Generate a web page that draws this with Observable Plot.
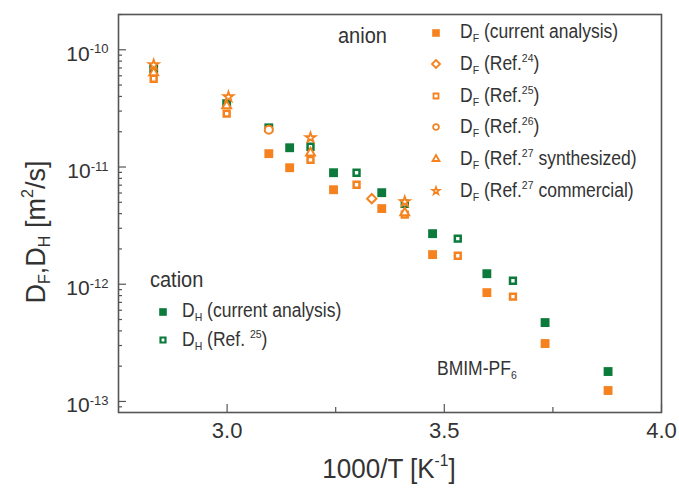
<!DOCTYPE html>
<html><head><meta charset="utf-8">
<script src="https://cdn.jsdelivr.net/npm/d3@7"></script>
<script src="https://cdn.jsdelivr.net/npm/@observablehq/plot@0.6"></script>
<style>
body{margin:0;background:#fff;}
#wrap{position:relative;width:679px;height:489px;font-family:"Liberation Sans",Arial,sans-serif;color:#333;}
#wrap svg{display:block;}
.ov{position:absolute;white-space:nowrap;line-height:1;}
.sub{font-size:0.6em;vertical-align:-0.35em;}
.sup{font-size:0.6em;vertical-align:0.7em;}
.lgsym{position:absolute;}
</style></head><body><div id="wrap"></div>
<script>
const orange = "#f5821f", green = "#0b7a3b";

// 1000/T [1/K] and diffusion coefficients [m^2/s]
const xDHcur = [2.831, 2.999, 3.096, 3.144, 3.245, 3.356, 3.473, 3.598, 3.732, 3.877];
const yDHcur = [6.9e-11, 3.47e-11, 2.16e-11, 1.46e-11, 8.94e-12, 6.04e-12, 2.70e-12, 1.23e-12, 4.71e-13, 1.80e-13];
const xDFcur = [3.096, 3.144, 3.245, 3.356, 3.473, 3.598, 3.732, 3.877];
const yDFcur = [1.30e-11, 9.86e-12, 6.40e-12, 4.42e-12, 1.79e-12, 8.48e-13, 3.12e-13, 1.24e-13];
const xDHref25 = [3.192, 3.298, 3.409, 3.531, 3.658];
const yDHref25 = [1.49e-11, 8.94e-12, 4.86e-12, 2.45e-12, 1.07e-12];
const xDFref25 = [2.831, 2.999, 3.192, 3.298, 3.409, 3.531, 3.658];
const yDFref25 = [5.66e-11, 2.85e-11, 1.15e-11, 7.06e-12, 3.92e-12, 1.75e-12, 7.83e-13];
const xDFref24 = [3.333];
const yDFref24 = [5.37e-12];
const xDFref26 = [3.096];
const yDFref26 = [2.08e-11];
const xDFref27s = [2.831, 2.999, 3.192, 3.409];
const yDFref27s = [6.37e-11, 3.33e-11, 1.32e-11, 4.07e-12];
const xDFref27c = [2.831, 3.003, 3.192, 3.409];
const yDFref27c = [7.45e-11, 3.97e-11, 1.78e-11, 5.06e-12];

// ticks
const xTicks = [3.0, 3.5, 4.0];
const xMinorTicks = [3.25, 3.75];
const yTicks = [1e-13, 1e-12, 1e-11, 1e-10];
const yMinorMult = [2, 3, 4, 5, 6, 7, 8, 9];
const yDecades = [1e-14, 1e-13, 1e-12, 1e-11, 1e-10];
const yDomain = [8.05e-14, 2.0e-10];
const yMinorTicks = yDecades.flatMap(d => yMinorMult.map(m => m * d)).filter(v => v >= yDomain[0] && v <= yDomain[1]);

const pts = (xs, ys) => xs.map((x, i) => ({x, y: ys[i]}));
const axisStroke = "#555";

const chart = Plot.plot({
  width: 679, height: 489,
  marginLeft: 118, marginRight: 18, marginTop: 14, marginBottom: 77,
  style: {fontFamily: "Liberation Sans, Arial, sans-serif", color: "#333", background: "white", overflow: "visible"},
  x: {domain: [2.75, 4.0]},
  y: {type: "log", domain: yDomain},
  marks: [
    Plot.axisX(xTicks, {tickSize: -8, tickFormat: () => "", stroke: axisStroke, strokeWidth: 1.2, label: null}),
    Plot.axisX(xMinorTicks, {tickSize: -5, tickFormat: () => "", stroke: axisStroke, strokeWidth: 1.2, label: null}),
    Plot.axisX(xTicks, {tickSize: 0, tickPadding: 10, tickFormat: d3.format(".1f"), fontSize: 22, fill: "#333", label: null}),
    Plot.axisY(yTicks, {tickSize: -8, tickFormat: () => "", stroke: axisStroke, strokeWidth: 1.2, label: null}),
    Plot.axisY(yMinorTicks, {tickSize: -4, tickFormat: () => "", stroke: axisStroke, strokeWidth: 1.2, label: null}),
    Plot.axisY(yTicks, {tickSize: 0, tickPadding: 10, tickFormat: d => "10^" + Math.round(Math.log10(d)), fontSize: 21, fill: "#333", dy: 4, label: null}),
    Plot.frame({stroke: axisStroke, strokeWidth: 1.6}),
    Plot.dot(pts(xDHcur, yDHcur), {x: "x", y: "y", symbol: "square", r: 5, fill: green, stroke: "none"}),
    Plot.dot(pts(xDFcur, yDFcur), {x: "x", y: "y", symbol: "square", r: 5, fill: orange, stroke: "none"}),
    Plot.dot(pts(xDHref25, yDHref25), {x: "x", y: "y", symbol: "square", r: 3.3, fill: "white", stroke: green, strokeWidth: 2.5}),
    Plot.dot(pts(xDFref25, yDFref25), {x: "x", y: "y", symbol: "square", r: 3.3, fill: "white", stroke: orange, strokeWidth: 2.5}),
    Plot.dot(pts(xDFref24, yDFref24), {x: "x", y: "y", symbol: "diamond2", r: 4.2, fill: "white", stroke: orange, strokeWidth: 2}),
    Plot.dot(pts(xDFref26, yDFref26), {x: "x", y: "y", symbol: "circle", r: 4, fill: "white", stroke: orange, strokeWidth: 2}),
    Plot.dot(pts(xDFref27s, yDFref27s), {x: "x", y: "y", symbol: "triangle2", r: 4.2, fill: "white", stroke: orange, strokeWidth: 2}),
    Plot.dot(pts(xDFref27c, yDFref27c), {x: "x", y: "y", symbol: "star", r: 3.1, fill: "white", stroke: orange, strokeWidth: 1.8})
  ]
});

const wrap = document.getElementById("wrap");
wrap.appendChild(chart);

// superscript exponents on y tick labels
d3.select(chart).selectAll('g[aria-label="y-axis tick label"] text').each(function() {
  const t = this.textContent;
  if (!t.startsWith("10^")) return;
  const exp = t.slice(3);
  const sel = d3.select(this);
  this.textContent = "";
  sel.append("tspan").text("10");
  sel.append("tspan").attr("dy", "-0.55em").attr("font-size", "0.62em").text(exp);
});

function overlay(html, left, top, size, extra) {
  const d = document.createElement("div");
  d.className = "ov";
  d.style.left = left + "px";
  d.style.top = top + "px";
  d.style.fontSize = size + "px";
  if (extra) Object.assign(d.style, extra);
  d.innerHTML = html;
  wrap.appendChild(d);
  return d;
}

// axis titles
overlay('1000/T [K<span class="sup">-1</span>]', 389, 467, 26, {transform: "translate(-50%,-50%) scaleY(1.08)"});
overlay('D<span class="sub">F</span>,D<span class="sub">H</span> [m<span class="sup">2</span>/s]', 36, 232, 27, {transform: "translate(-50%,-50%) rotate(-90deg)"});

// legend
const symbols = {square: d3.symbolSquare, diamond: d3.symbolDiamond2, circle: d3.symbolCircle, triangle: d3.symbolTriangle2, star: d3.symbolStar};
function legendRow(cx, cy, tx, sym, r, color, filled, sw, html) {
  const s = 20;
  const path = d3.symbol(symbols[sym], Math.PI * r * r)();
  const svg = `<svg class="lgsym" width="${s}" height="${s}" style="left:${cx - s/2}px;top:${cy - s/2}px"><path transform="translate(${s/2},${s/2})" d="${path}" fill="${filled ? color : "white"}" stroke="${filled ? "none" : color}" stroke-width="${filled ? 0 : sw}"/></svg>`;
  const txt = `<div class="ov" style="left:${tx}px;top:${cy}px;transform:translateY(-50%) scaleY(1.12);font-size:17.5px">${html}</div>`;
  wrap.insertAdjacentHTML("beforeend", svg + txt);
}

overlay("anion", 338, 35, 20, {transform: "translateY(-50%) scaleY(1.12)"});
const rowsA = [
  [33, "square", 4.3, true, 0, 'D<span class="sub">F</span> (current analysis)'],
  [64, "diamond", 3.6, false, 1.8, 'D<span class="sub">F</span> (Ref.<span class="sup">24</span>)'],
  [96, "square", 2.8, false, 1.8, 'D<span class="sub">F</span> (Ref.<span class="sup">25</span>)'],
  [127, "circle", 2.9, false, 1.8, 'D<span class="sub">F</span> (Ref.<span class="sup">26</span>)'],
  [159, "triangle", 3.3, false, 1.8, 'D<span class="sub">F</span> (Ref.<span class="sup">27</span> synthesized)'],
  [191, "star", 2.4, false, 1.6, 'D<span class="sub">F</span> (Ref.<span class="sup">27</span> commercial)']
];
rowsA.forEach(([y, sym, r, f, sw, h]) => legendRow(436, y, 460, sym, r, orange, f, sw, h));
overlay("cation", 150, 279, 20, {transform: "translateY(-50%) scaleY(1.12)"});
legendRow(163, 312, 182, "square", 4.3, green, true, 0, 'D<span class="sub">H</span> (current analysis)');
legendRow(163, 340, 182, "square", 2.8, green, false, 2.2, 'D<span class="sub">H</span> (Ref. <span class="sup">25</span>)');

overlay('BMIM-PF<span class="sub">6</span>', 437, 370, 17.5, {transform: "translateY(-50%) scaleY(1.12)"});
</script></body></html>
